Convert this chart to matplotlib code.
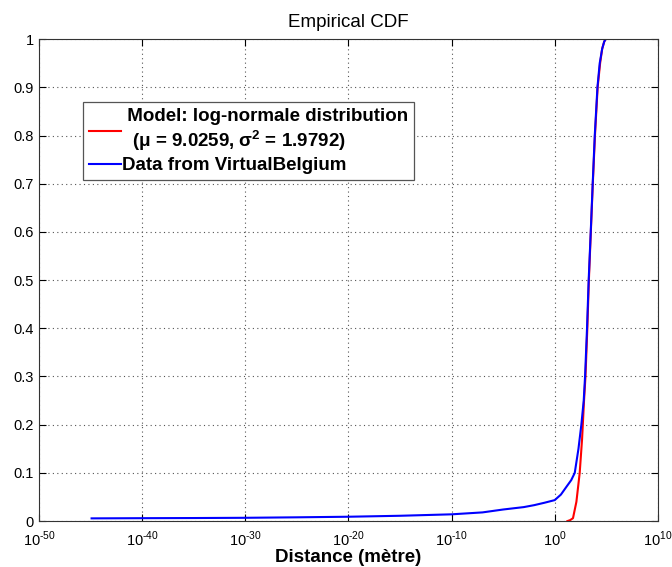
import matplotlib
matplotlib.use("Agg")
import matplotlib.pyplot as plt
import numpy as np

plt.rcParams['font.family'] = ['Liberation Sans', 'DejaVu Sans']
plt.rcParams['mathtext.fontset'] = 'custom'
plt.rcParams['mathtext.rm'] = 'Liberation Sans'
plt.rcParams['mathtext.bf'] = 'Liberation Sans:bold'
plt.rcParams['axes.unicode_minus'] = False

# courbes (log10 de la distance, probabilite cumulee)
model_log10 = [1.23, 1.5, 1.77, 2.1, 2.42, 2.65, 2.84, 2.98, 3.16, 3.31, 3.5,
               3.69, 3.9, 4.16, 4.4, 4.6, 4.8, 4.95]
model_cdf = [0.0, 0.002, 0.006, 0.04, 0.1, 0.17, 0.25, 0.3, 0.4, 0.5, 0.6,
             0.7, 0.8, 0.9, 0.95, 0.98, 0.995, 1.0]

data_log10 = [-44.9, -40, -35, -30, -25, -20, -15, -10, -7, -5, -3, -2, -1, 0,
              0.6, 1.13, 1.6, 1.94, 2.3, 2.58, 2.81, 2.94, 3.13, 3.29, 3.49,
              3.68, 3.88, 4.14, 4.36, 4.6, 4.8, 4.94]
data_cdf = [0.0056, 0.006, 0.0063, 0.0068, 0.0078, 0.009, 0.011, 0.014, 0.018,
            0.024, 0.029, 0.033, 0.038, 0.0435, 0.055, 0.071, 0.085, 0.10, 0.15,
            0.2, 0.25, 0.3, 0.4, 0.5, 0.6, 0.7, 0.8, 0.9, 0.95, 0.98, 0.995, 1.0]

yticks = [0, 0.1, 0.2, 0.3, 0.4, 0.5, 0.6, 0.7, 0.8, 0.9, 1]
ytick_labels = ["0", "0.1", "0.2", "0.3", "0.4", "0.5", "0.6", "0.7", "0.8", "0.9", "1"]
xtick_exp = [-50, -40, -30, -20, -10, 0, 10]

fig = plt.figure(figsize=(6.72, 5.67), dpi=100)
ax = fig.add_axes([0.058, 0.081, 0.921, 0.850])

ax.plot(10.0 ** np.array(model_log10), model_cdf, color="#ff0000", lw=1.5,
        label=" Model: log-normale distribution\n  (μ = 9.0259, σ$^\\mathbf{2}$ = 1.9792)")
ax.plot(10.0 ** np.array(data_log10), data_cdf, color="#0000ff", lw=1.5,
        label="Data from VirtualBelgium")

ax.set_xscale("log")
ax.set_xlim(1e-50, 1e10)
ax.set_ylim(0, 1)
ax.set_xticks([10.0 ** e for e in xtick_exp])
ax.set_xticklabels(["$10^{\\text{%d}}$" % e for e in xtick_exp])
ax.minorticks_off()
ax.set_yticks(yticks)
ax.set_yticklabels(ytick_labels)
ax.tick_params(direction="in", top=True, right=True, labelsize=10.5, length=5)
ax.tick_params(axis="x", pad=6)

ax.grid(True, linestyle=(0, (1, 3)), color="#555555", lw=0.8)
for s in ax.spines.values():
    s.set_color("#333333")

ax.set_title("Empirical CDF", fontsize=13.5, pad=9)
ax.set_xlabel("Distance (mètre)", fontsize=13.5, fontweight="bold", labelpad=0)

leg = ax.legend(loc="upper left", bbox_to_anchor=(0.071, 0.869),
                prop={"weight": "bold", "size": 13.5}, fancybox=False,
                framealpha=1, edgecolor="#555555", handlelength=1.75,
                handletextpad=0.05, borderpad=0.3, labelspacing=0.2,
                borderaxespad=0)
leg.get_frame().set_linewidth(0.9)

fig.savefig("out.png", dpi=100)
